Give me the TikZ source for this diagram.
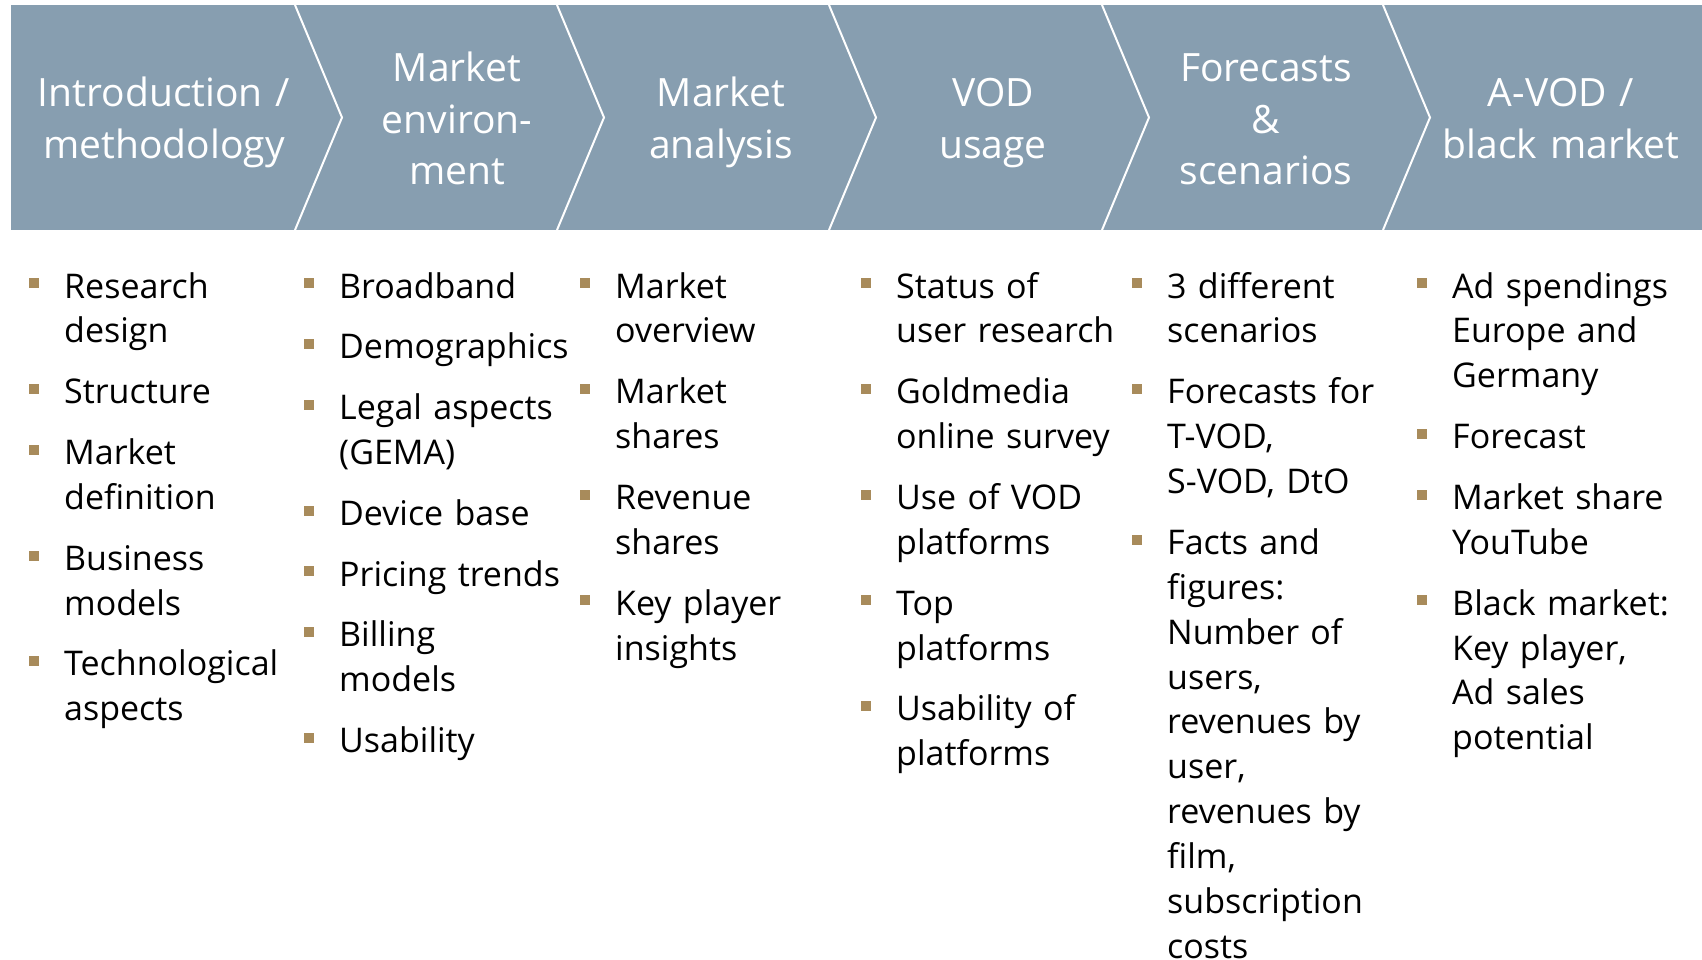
\documentclass[tikz,border=0pt]{standalone}
\usepackage{fontspec}
\setmainfont{Open Sans}
\definecolor{hdr}{HTML}{879EB0}
\definecolor{bul}{HTML}{A88B5B}
\newcommand{\bi}[1]{\noindent\llap{\textcolor{bul}{\rule[9.7pt]{10pt}{10pt}}\hspace{25pt}}#1\par\vspace{15.9pt}}
\begin{document}
\begin{tikzpicture}[x=1pt,y=-1pt,
  hdrtext/.style={anchor=base, text=white, text width=270pt, align=center, font=\fontsize{39}{51.5}\selectfont, inner sep=0pt},
  col/.style={anchor=base west, text width=262pt, align=left, inner sep=0pt, font=\fontsize{34}{44.9}\selectfont},
  sepline/.style={draw=white, line width=2pt}]
\useasboundingbox (0,0) rectangle (1702,959);
\fill[hdr] (11,5) rectangle (1702,230);
\foreach \x in {295,557,829,1102,1383} \draw[sepline] (\x,5) -- (\x+47,117.5) -- (\x,230);
\node[hdrtext] (h1) at (164,106.5) {Introduction /\\methodology};
\node[hdrtext] (h2) at (457,81.5) {Market\\environ-\\ment};
\node[hdrtext] (h3) at (721,106.5) {Market\\analysis};
\node[hdrtext] (h4) at (993,106.5) {VOD\\usage};
\node[hdrtext] (h5) at (1266,81.5) {Forecasts\\\&\\scenarios};
\node[hdrtext] (h6) at (1561,106.5) {A-VOD /\\black market};
\node[col] (c1) at (64,298) {\bi{Research\newline design}\bi{Structure}\bi{Market\newline definition}\bi{Business\newline models}\bi{Technological\newline aspects}};
\node[col] (c2) at (339,298) {\bi{Broadband}\bi{Demographics}\bi{Legal aspects\newline (GEMA)}\bi{Device base}\bi{Pricing trends}\bi{Billing\newline models}\bi{Usability}};
\node[col] (c3) at (615,298) {\bi{Market\newline overview}\bi{Market\newline shares}\bi{Revenue\newline shares}\bi{Key player\newline insights}};
\node[col] (c4) at (896,298) {\bi{Status of\newline user research}\bi{Goldmedia\newline online survey}\bi{Use of VOD\newline platforms}\bi{Top\newline platforms}\bi{Usability of\newline platforms}};
\node[col] (c5) at (1167,298) {\bi{3 different\newline scenarios}\bi{Forecasts for\newline T-VOD,\newline S-VOD, DtO}\bi{Facts and\newline figures:\newline Number of\newline users,\newline revenues by\newline user,\newline revenues by\newline film,\newline subscription\newline costs}};
\node[col] (c6) at (1452,298) {\bi{Ad spendings\newline Europe and\newline Germany}\bi{Forecast}\bi{Market share\newline YouTube}\bi{Black market:\newline Key player,\newline Ad sales\newline potential}};
\end{tikzpicture}
\end{document}
